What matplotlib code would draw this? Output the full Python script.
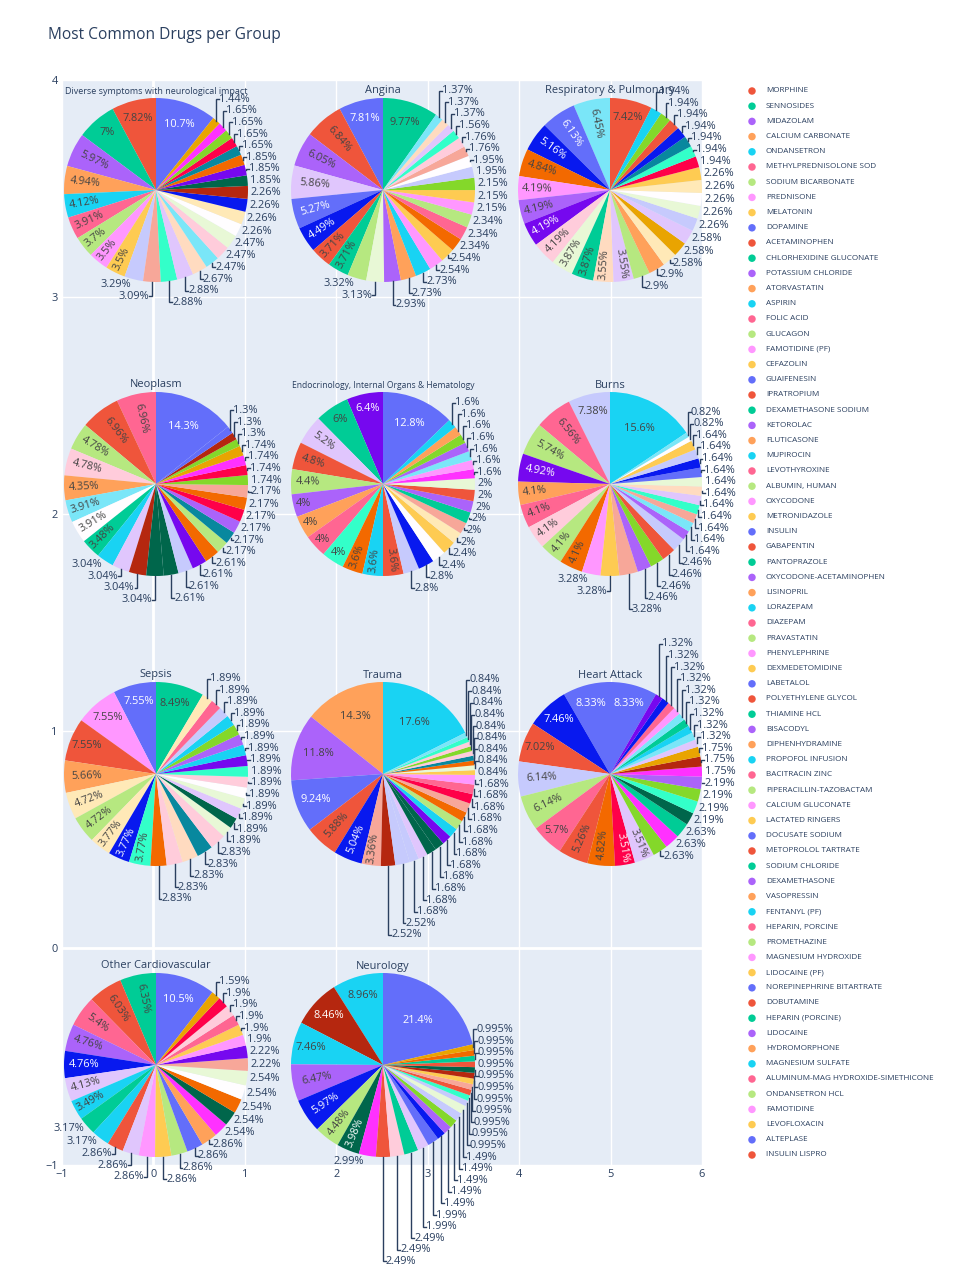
import colorsys
import numpy as np
import matplotlib
matplotlib.use("Agg")
import matplotlib.pyplot as plt
from matplotlib.colors import to_rgb

plt.rcParams["font.family"] = ["Open Sans", "DejaVu Sans"]

W, H = 960, 1280
INK = "#2a3f5f"
PLOTLY = ["#636EFA", "#EF553B", "#00CC96", "#AB63FA", "#FFA15A",
          "#19D3F3", "#FF6692", "#B6E880", "#FF97FF", "#FECB52"]

# ---------------- data (percent per slice, largest first) ----------------
GROUPS = ["Diverse symptoms with neurological impact", "Angina", "Respiratory & Pulmonary",
          "Neoplasm", "Endocrinology, Internal Organs & Hematology", "Burns",
          "Sepsis", "Trauma", "Heart Attack",
          "Other Cardiovascular", "Neurology"]

diverse = [10.7, 7.82, 7, 5.97, 4.94, 4.12, 3.91, 3.7, 3.5, 3.5, 3.29, 3.09, 2.88, 2.88, 2.67,
           2.47, 2.47, 2.47, 2.26, 2.26, 2.26, 2.26, 1.85, 1.85, 1.85, 1.65, 1.65, 1.65, 1.65, 1.44]
angina = [9.77, 7.81, 6.84, 6.05, 5.86, 5.27, 4.49, 3.71, 3.71, 3.32, 3.13, 2.93, 2.73, 2.73, 2.54,
          2.54, 2.34, 2.34, 2.34, 2.15, 2.15, 2.15, 1.95, 1.95, 1.76, 1.76, 1.56, 1.37, 1.37, 1.37]
respiratory = [7.42, 6.45, 6.13, 5.16, 4.84, 4.19, 4.19, 4.19, 4.19, 3.87, 3.87, 3.55, 3.55, 2.9, 2.9,
               2.58, 2.58, 2.58, 2.26, 2.26, 2.26, 2.26, 2.26, 1.94, 1.94, 1.94, 1.94, 1.94, 1.94, 1.94]
neoplasm = [14.3, 6.96, 6.96, 4.78, 4.78, 4.35, 3.91, 3.91, 3.48, 3.04, 3.04, 3.04, 3.04, 2.61, 2.61,
            2.61, 2.61, 2.17, 2.17, 2.17, 2.17, 2.17, 2.17, 1.74, 1.74, 1.74, 1.74, 1.3, 1.3, 1.3]
endocrine = [12.8, 6.4, 6, 5.2, 4.8, 4.4, 4, 4, 4, 4, 3.6, 3.6, 3.6, 2.8, 2.8,
             2.4, 2.4, 2, 2, 2, 2, 2, 2, 1.6, 1.6, 1.6, 1.6, 1.6, 1.6, 1.6]
burns = [15.6, 7.38, 6.56, 5.74, 4.92, 4.1, 4.1, 4.1, 4.1, 4.1, 3.28, 3.28, 3.28, 2.46, 2.46,
         2.46, 2.46, 1.64, 1.64, 1.64, 1.64, 1.64, 1.64, 1.64, 1.64, 1.64, 1.64, 1.64, 0.82, 0.82]
sepsis = [8.49, 7.55, 7.55, 7.55, 5.66, 4.72, 4.72, 3.77, 3.77, 3.77, 2.83, 2.83, 2.83, 2.83, 2.83,
          1.89, 1.89, 1.89, 1.89, 1.89, 1.89, 1.89, 1.89, 1.89, 1.89, 1.89, 1.89, 1.89, 1.89, 1.89]
trauma = [17.6, 14.3, 11.8, 9.24, 5.88, 5.04, 3.36, 2.52, 2.52, 1.68, 1.68, 1.68, 1.68, 1.68, 1.68,
          1.68, 1.68, 1.68, 1.68, 1.68, 1.68, 0.84, 0.84, 0.84, 0.84, 0.84, 0.84, 0.84, 0.84, 0.84]
heart_attack = [8.33, 8.33, 7.46, 7.02, 6.14, 6.14, 5.7, 5.26, 4.82, 3.51, 3.51, 2.63, 2.63, 2.63, 2.19,
                2.19, 2.19, 2.19, 1.75, 1.75, 1.75, 1.32, 1.32, 1.32, 1.32, 1.32, 1.32, 1.32, 1.32, 1.32]
other_cardio = [10.5, 6.35, 6.03, 5.4, 4.76, 4.76, 4.13, 3.49, 3.17, 3.17, 2.86, 2.86, 2.86, 2.86, 2.86,
                2.86, 2.86, 2.54, 2.54, 2.54, 2.54, 2.54, 2.22, 2.22, 1.9, 1.9, 1.9, 1.9, 1.9, 1.59]
neurology = [21.4, 8.96, 8.46, 7.46, 6.47, 5.97, 4.48, 3.98, 2.99, 2.49, 2.49, 2.49, 1.99, 1.99, 1.49,
             1.49, 1.49, 1.49, 1.49, 0.995, 0.995, 0.995, 0.995, 0.995, 0.995, 0.995, 0.995, 0.995,
             0.995, 0.995]

# colour slot of every slice in the extended pie colorway (0-9 base, 10-19 lighter, 20-29 darker)
diverse_c = list(range(30))
angina_c = [2, 0, 1, 3, 13, 0, 20, 1, 2, 7, 17, 3, 4, 5, 8, 9, 24, 6, 7, 8, 9, 27, 10, 18, 11, 16, 12, 13, 14, 15]
respiratory_c = [1, 15, 0, 20, 24, 8, 3, 23, 16, 17, 2, 14, 13, 7, 4, 19, 29, 13, 10, 17, 18, 19, 9, 26, 12, 25, 20, 1, 27, 5]
neoplasm_c = [0, 6, 1, 7, 16, 4, 15, 18, 2, 5, 13, 21, 22, 22, 10, 23, 24, 7, 25, 3, 26, 24, 11, 27, 26, 28, 29, 27, 21, 0]
endocrine_c = [0, 23, 2, 13, 1, 7, 3, 4, 6, 12, 24, 5, 1, 10, 20, 18, 9, 19, 11, 2, 3, 1, 17, 28, 8, 15, 3, 27, 4, 5]
burns_c = [5, 10, 6, 7, 23, 4, 6, 16, 7, 24, 8, 9, 11, 3, 27, 1, 10, 3, 15, 11, 12, 13, 14, 17, 0, 20, 10, 9, 18, 15]
sepsis_c = [2, 0, 8, 1, 4, 19, 7, 19, 20, 12, 24, 16, 14, 25, 16, 17, 22, 13, 17, 18, 16, 12, 23, 5, 3, 27, 5, 10, 6, 19]
trauma_c = [5, 4, 3, 0, 1, 20, 11, 21, 10, 10, 13, 22, 22, 23, 5, 7, 24, 11, 26, 6, 8, 9, 17, 24, 25, 16, 27, 16, 12, 15]
heart_attack_c = [0, 0, 20, 1, 10, 7, 6, 1, 24, 26, 13, 27, 28, 2, 22, 12, 27, 3, 28, 21, 29, 13, 15, 5, 2, 15, 8, 6, 20, 23]
other_cardio_c = [0, 2, 1, 6, 3, 20, 13, 5, 2, 5, 1, 13, 8, 9, 7, 0, 4, 28, 22, 24, 18, 17, 11, 23, 8, 9, 6, 16, 26, 29]
neurology_c = [0, 5, 21, 5, 3, 20, 7, 22, 28, 1, 16, 2, 13, 0, 20, 3, 27, 10, 17, 10, 12, 1, 11, 9, 21, 22, 1, 2, 24, 29]

PCT = [diverse, angina, respiratory, neoplasm, endocrine, burns,
       sepsis, trauma, heart_attack, other_cardio, neurology]
SLOTS = [diverse_c, angina_c, respiratory_c, neoplasm_c, endocrine_c, burns_c,
         sepsis_c, trauma_c, heart_attack_c, other_cardio_c, neurology_c]

DRUGS = ["MORPHINE", "SENNOSIDES", "MIDAZOLAM", "CALCIUM CARBONATE", "ONDANSETRON",
         "METHYLPREDNISOLONE SOD", "SODIUM BICARBONATE", "PREDNISONE", "MELATONIN", "DOPAMINE",
         "ACETAMINOPHEN", "CHLORHEXIDINE GLUCONATE", "POTASSIUM CHLORIDE", "ATORVASTATIN", "ASPIRIN",
         "FOLIC ACID", "GLUCAGON", "FAMOTIDINE (PF)", "CEFAZOLIN", "GUAIFENESIN",
         "IPRATROPIUM", "DEXAMETHASONE SODIUM", "KETOROLAC", "FLUTICASONE", "MUPIROCIN",
         "LEVOTHYROXINE", "ALBUMIN, HUMAN", "OXYCODONE", "METRONIDAZOLE", "INSULIN",
         "GABAPENTIN", "PANTOPRAZOLE", "OXYCODONE-ACETAMINOPHEN", "LISINOPRIL", "LORAZEPAM",
         "DIAZEPAM", "PRAVASTATIN", "PHENYLEPHRINE", "DEXMEDETOMIDINE", "LABETALOL",
         "POLYETHYLENE GLYCOL", "THIAMINE HCL", "BISACODYL", "DIPHENHYDRAMINE", "PROPOFOL INFUSION",
         "BACITRACIN ZINC", "PIPERACILLIN-TAZOBACTAM", "CALCIUM GLUCONATE", "LACTATED RINGERS",
         "DOCUSATE SODIUM", "METOPROLOL TARTRATE", "SODIUM CHLORIDE", "DEXAMETHASONE", "VASOPRESSIN",
         "FENTANYL (PF)", "HEPARIN, PORCINE", "PROMETHAZINE", "MAGNESIUM HYDROXIDE", "LIDOCAINE (PF)",
         "NOREPINEPHRINE BITARTRATE", "DOBUTAMINE", "HEPARIN (PORCINE)", "LIDOCAINE", "HYDROMORPHONE",
         "MAGNESIUM SULFATE", "ALUMINUM-MAG HYDROXIDE-SIMETHICONE", "ONDANSETRON HCL", "FAMOTIDINE",
         "LEVOFLOXACIN", "ALTEPLASE", "INSULIN LISPRO"]


def shade(hex_color, amount):
    h, l, s = colorsys.rgb_to_hls(*to_rgb(hex_color))
    return colorsys.hls_to_rgb(h, min(1.0, max(0.0, l + amount)), s)


SLICE_COLORS = ([to_rgb(c) for c in PLOTLY] + [shade(c, 0.2) for c in PLOTLY]
                + [shade(c, -0.2) for c in PLOTLY])


def contrast(rgb):
    r, g, b = [v * 255 for v in rgb]
    return "#444444" if (r * 299 + g * 587 + b * 114) / 1000 >= 128 else "white"


# layout in pixels
R = 92
COL_X = [156, 383, 610]
ROW_Y = [190, 484, 774, 1065]
FS = 7.9
TEXT_H = 11.6
INSIDE_MIN = 3.34

fig = plt.figure(figsize=(W / 100, H / 100), dpi=100)

bg = fig.add_axes([62 / W, 1 - 1165 / H, 640 / W, 1085 / H])
bg.set_facecolor("#E5ECF6")
bg.set_xlim(-1, 6)
bg.set_ylim(-1, 4)
bg.set_xticks(range(-1, 7))
bg.set_yticks(range(-1, 5))
bg.grid(color="white", linewidth=1)
bg.axhline(0, color="white", linewidth=2)
bg.axvline(0, color="white", linewidth=2)
bg.set_axisbelow(True)
for sp in bg.spines.values():
    sp.set_visible(False)
bg.tick_params(length=0, colors=INK, labelsize=FS, pad=3)

ov = fig.add_axes([0, 0, 1, 1], facecolor="none")
renderer = fig.canvas.get_renderer()


def text_width(s, size):
    t = ov.text(0, 0, s, fontsize=size)
    w = t.get_window_extent(renderer).width
    t.remove()
    return w


def inside_spot(mid, half, w):
    h = TEXT_H
    sh = np.sin(half)
    rho = R * sh / (1 + sh)
    if np.hypot(w, h) <= 2 * rho:
        r = R - rho
        return r * np.cos(mid), r * np.sin(mid), 0
    rp = R - 6
    best = None
    for aspect, size, turn in ((w / h, h, 0), (h / w, w, 90)):
        q = aspect + 1 / (2 * np.tan(half))
        s = rp * min(1 / (np.sqrt(q * q + 0.5) + q), 1 / (np.sqrt(aspect * aspect + 0.5) + aspect))
        scale = 2 * s / size
        rc = np.cos(s / rp) - aspect * s / rp
        if best is None or scale > best[0]:
            best = (scale, rc, turn)
    _, rc, turn = best
    rot = (np.degrees(mid) + turn + 90) % 180 - 90
    return rc * R * np.cos(mid), rc * R * np.sin(mid), rot


def draw_pie(name, vals, slots, cx, cy):
    vals = np.asarray(vals, float)
    colors = [SLICE_COLORS[i] for i in slots]
    start = 90 - 360 * vals[0] / vals.sum()
    wedges, _ = ov.pie(vals, colors=colors, startangle=start, counterclock=True,
                       center=(cx, cy), radius=R, frame=True,
                       wedgeprops=dict(linewidth=0))
    h = TEXT_H
    outside = []
    for v, wdg, col in zip(vals, wedges, colors):
        label = f"{v:.3g}%"
        mid = np.radians((wdg.theta1 + wdg.theta2) / 2)
        half = np.radians((wdg.theta2 - wdg.theta1) / 2)
        w = text_width(label, FS)
        if v >= INSIDE_MIN:
            x, y, rot = inside_spot(mid, half, w)
            ov.text(cx + x, cy + y, label, rotation=rot, rotation_mode="anchor",
                    ha="center", va="center", fontsize=FS, color=contrast(col))
        else:
            px, py = R * np.cos(mid), R * np.sin(mid)
            sx = 1 if px >= 0 else -1
            sy = 1 if py > 0 else -1
            ty = py + sy * (h / 2) * py * py / (px * px + py * py)
            outside.append(dict(label=label, px=px, py=py, sx=sx, sy=sy,
                                tx=px + sx * (w / 2 + h / 4), ty=ty, ny=ty))
    # push overlapping outside labels away from the equator
    for side in (1, -1):
        top = sorted([o for o in outside if o["sx"] == side and o["sy"] > 0], key=lambda o: o["py"])
        bottom = sorted([o for o in outside if o["sx"] == side and o["sy"] < 0], key=lambda o: -o["py"])
        prev = None
        for o in top:
            if prev is not None:
                o["ny"] = max(o["ty"], prev["ny"] + h)
            prev = o
        prev = top[0] if top else None
        for o in bottom:
            if prev is not None:
                o["ny"] = min(o["ty"], prev["ny"] - h)
            prev = o
    for o in outside:
        ov.text(cx + o["tx"], cy + o["ny"], o["label"], ha="center", va="center",
                fontsize=FS, color=INK)
        if abs(o["ny"] - o["ty"]) > 0.01:
            x0 = cx + o["px"]
            ov.plot([x0, x0, x0 + o["sx"] * h / 4], [cy + o["py"], cy + o["ny"], cy + o["ny"]],
                    color=INK, linewidth=1.0, solid_joinstyle="miter")
    t = ov.text(cx, cy + R + 7, name, ha="center", va="center", fontsize=FS, color=INK)
    tw = t.get_window_extent(renderer).width
    if tw > 2 * R:
        t.set_fontsize(FS * 2 * R / tw)


for k, (name, vals, slots) in enumerate(zip(GROUPS, PCT, SLOTS)):
    draw_pie(name, vals, slots, COL_X[k % 3], H - ROW_Y[k // 3])

# legend
rows = H - (91 + 15.2 * np.arange(len(DRUGS)))
ov.scatter(np.full(len(DRUGS), 752.0), rows, s=29, linewidths=0,
           c=[PLOTLY[(i + 1) % 10] for i in range(len(DRUGS))])
for y, drug in zip(rows, DRUGS):
    ov.text(766, y, drug, fontsize=5.9, color=INK, va="center")

ov.text(48, H - 35, "Most Common Drugs per Group", fontsize=11.2, color=INK, va="center")

ov.set_xlim(0, W)
ov.set_ylim(0, H)
ov.set_aspect("auto")
ov.axis("off")

fig.savefig("out.png", dpi=100)
